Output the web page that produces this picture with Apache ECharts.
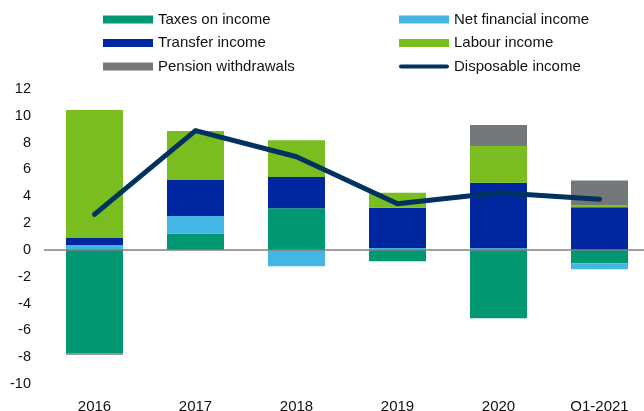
<!DOCTYPE html>
<html>
<head>
<meta charset="utf-8">
<script src="https://cdn.jsdelivr.net/npm/echarts@6/dist/echarts.min.js"></script>
<style>
  html, body { margin: 0; padding: 0; background: #fff; }
  #chart { width: 644px; height: 411px; }
</style>
</head>
<body>
<div id="chart"></div>
<script>
// Contributions to household disposable income growth (percentage points)
const categories = ['2016', '2017', '2018', '2019', '2020', 'Q1-2021'];

const taxesOnIncome      = [-7.72, 1.23, 3.1, -0.84, -5.09, -1.0];
const netFinancialIncome = [0.36, 1.29, -1.22, 0.15, 0.12, -0.45];
const transferIncome     = [0.57, 2.74, 2.33, 3.0, 4.89, 3.19];
const labourIncome       = [9.5, 3.6, 2.74, 1.12, 2.74, 0.13];
const pensionWithdrawals = [-0.1, 0, 0, 0, 1.56, 1.85];
const disposableIncome   = [2.65, 8.9, 6.95, 3.45, 4.27, 3.77];

const yTicks = { min: -10, max: 12, step: 2 };

const colors = {
  taxes: '#009872',
  netFin: '#44b6e4',
  transfer: '#0026a0',
  labour: '#7abd21',
  pension: '#75787b',
  disposable: '#00325f'
};

const font = 'Arial, "Liberation Sans", sans-serif';

// Short thick line with rounded ends, padded to the full 50x8 legend box
const lineIcon = 'path://M0,0 M50,8 M2,2 L48,2 A2,2 0 0 1 48,6 L2,6 A2,2 0 0 1 2,2 Z';

function barSeries(name, data, color) {
  return {
    name: name,
    type: 'bar',
    stack: 'total',
    data: data,
    barWidth: 57,
    itemStyle: { color: color },
    emphasis: { disabled: true }
  };
}

const chart = echarts.init(document.getElementById('chart'), null, { renderer: 'canvas' });

const legendCommon = {
  orient: 'vertical',
  top: 12,
  itemWidth: 50,
  itemHeight: 8,
  itemGap: 8.5,
  icon: 'rect',
  textStyle: { fontFamily: font, fontSize: 15, color: '#111' },
  padding: 0,
  selectedMode: false
};

chart.setOption({
  animation: false,
  backgroundColor: '#fff',
  legend: [
    Object.assign({}, legendCommon, {
      left: 103,
      data: ['Taxes on income', 'Transfer income', 'Pension withdrawals']
    }),
    Object.assign({}, legendCommon, {
      left: 399,
      data: ['Net financial income', 'Labour income', { name: 'Disposable income', icon: lineIcon }]
    })
  ],
  grid: { left: 44, top: 89, width: 606, height: 295, containLabel: false, outerBoundsMode: 'none' },
  xAxis: {
    type: 'category',
    data: categories,
    axisLine: { show: false, onZero: false },
    axisTick: { show: false },
    axisLabel: { margin: 15, fontFamily: font, fontSize: 15, color: '#111' },
    splitLine: { show: false }
  },
  yAxis: {
    type: 'value',
    min: yTicks.min,
    max: yTicks.max,
    interval: yTicks.step,
    axisLine: { show: false },
    axisTick: { show: false },
    splitLine: { show: false },
    axisLabel: { margin: 13, fontFamily: font, fontSize: 14.5, color: '#111' }
  },
  series: [
    Object.assign(barSeries('Taxes on income', taxesOnIncome, colors.taxes), {
      markLine: {
        silent: true,
        symbol: 'none',
        label: { show: false },
        lineStyle: { color: '#7f7f7f', width: 1.5, type: 'solid' },
        data: [{ yAxis: 0 }]
      }
    }),
    barSeries('Net financial income', netFinancialIncome, colors.netFin),
    barSeries('Transfer income', transferIncome, colors.transfer),
    barSeries('Labour income', labourIncome, colors.labour),
    barSeries('Pension withdrawals', pensionWithdrawals, colors.pension),
    {
      name: 'Disposable income',
      type: 'line',
      data: disposableIncome,
      symbol: 'none',
      lineStyle: { color: colors.disposable, width: 5, cap: 'round', join: 'round' },
      itemStyle: { color: colors.disposable },
      z: 5
    }
  ]
});
</script>
</body>
</html>
